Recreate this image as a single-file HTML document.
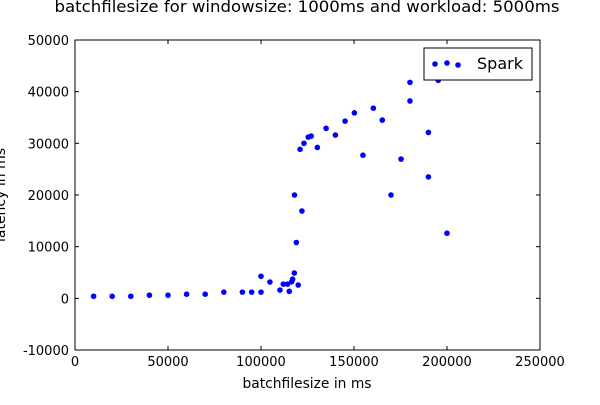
<!DOCTYPE html>
<html><head><meta charset="utf-8"><style>
body{margin:0;background:#fff;}
svg{font-family:"DejaVu Sans","Liberation Sans",sans-serif;}
</style></head><body>
<svg id="chart" width="600" height="400" viewBox="0 0 600 400">
<rect width="600" height="400" fill="#fff"/>
<text x="307" y="12" text-anchor="middle" font-size="16" textLength="505" lengthAdjust="spacingAndGlyphs">batchfilesize for windowsize: 1000ms and workload: 5000ms</text>
<g id="axes"></g>
<g id="points"></g>
<text x="307" y="388" text-anchor="middle" font-size="14" textLength="129" lengthAdjust="spacingAndGlyphs">batchfilesize in ms</text>
<text transform="translate(5,195) rotate(-90)" text-anchor="middle" font-size="14">latency in ms</text>
<g>
<rect x="424" y="48" width="108" height="32" fill="#fff" stroke="#000" stroke-width="1"/>
<circle cx="435" cy="64" r="2.8" fill="#0000ff"/>
<circle cx="447" cy="63" r="2.8" fill="#0000ff"/>
<circle cx="458" cy="65" r="2.8" fill="#0000ff"/>
<text x="477" y="69" font-size="16">Spark</text>
</g>
</svg>
<script>
const xs = [10000,20000,30000,40000,50000,60000,70000,80000,90000,95000,100000,100000,104800,110200,112000,114300,115200,116500,117000,117900,120000,119000,122000,118000,121000,123100,125400,127000,130300,135000,140000,145200,150200,154800,160400,165200,169900,175300,180100,180100,190000,190000,195300,200000];
const ys = [400,400,400,600,600,800,800,1200,1200,1200,1200,4270,3150,1600,2750,2750,1350,3200,3700,4900,2570,10800,16900,20000,28840,30000,31200,31400,29200,32900,31600,34300,35900,27700,36800,34500,20000,26950,41800,38200,32100,23500,42200,12600];
const xTicks = [0,50000,100000,150000,200000,250000];
const yTicks = [-10000,0,10000,20000,30000,40000,50000];
const NS="http://www.w3.org/2000/svg";
const L=75,R=540,T=40,B=350;
const xMin=0,xMax=250000,yMin=-10000,yMax=50000;
function sx(v){return L+(v-xMin)/(xMax-xMin)*(R-L);}
function sy(v){return B-(v-yMin)/(yMax-yMin)*(B-T);}
function mk(tag,a,p){const e=document.createElementNS(NS,tag);for(const k in a)e.setAttribute(k,a[k]);p.appendChild(e);return e;}
const ax=document.getElementById('axes');
const frame=mk('rect',{x:L,y:T,width:R-L,height:B-T,fill:'none',stroke:'#000','stroke-width':1},ax);


xTicks.forEach(v=>{
  const x=sx(v);
  mk('line',{x1:x,y1:B,x2:x,y2:B-4,stroke:'#000'},ax);
  mk('line',{x1:x,y1:T,x2:x,y2:T+4,stroke:'#000'},ax);
  const t=mk('text',{x:x,y:B+16,'text-anchor':'middle','font-size':13},ax);
  t.textContent=v;
  
  
});
yTicks.forEach(v=>{
  const y=sy(v);
  mk('line',{x1:L,y1:y,x2:L+4,y2:y,stroke:'#000'},ax);
  mk('line',{x1:R,y1:y,x2:R-4,y2:y,stroke:'#000'},ax);
  const t=mk('text',{x:L-6,y:y+5,'text-anchor':'end','font-size':13},ax);
  t.textContent=v;
  
  
});
const pg=document.getElementById('points');
xs.forEach((v,i)=>{
  const c=mk('circle',{cx:sx(v),cy:sy(ys[i]),r:2.8,fill:'#0000ff'},pg);
  
  
});
</script>
</body></html>
